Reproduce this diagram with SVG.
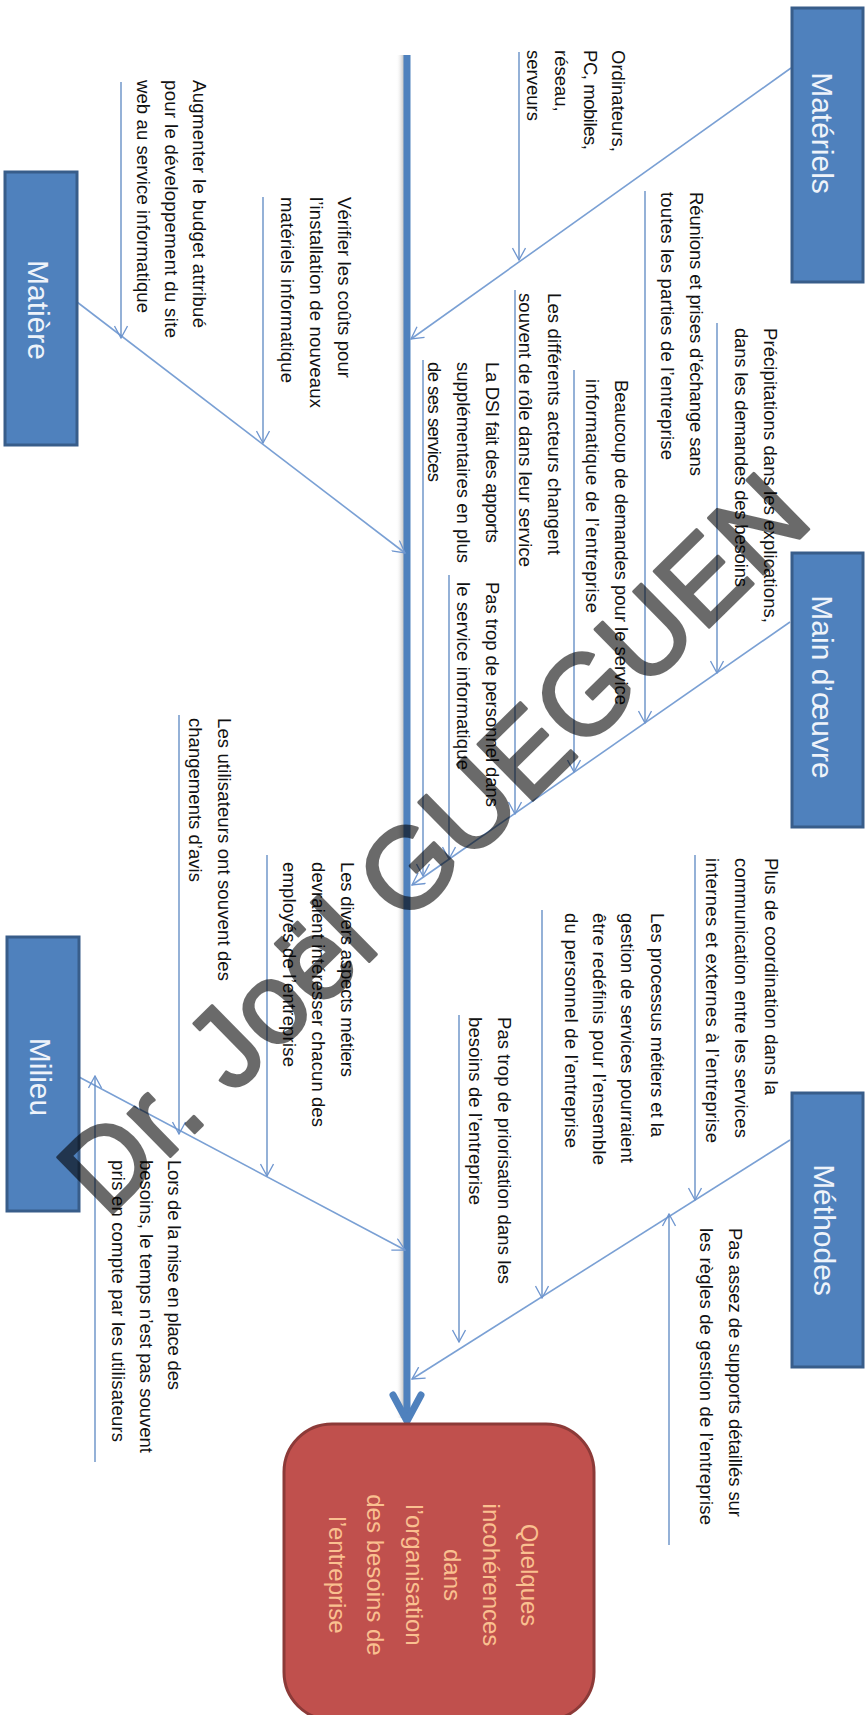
<svg xmlns="http://www.w3.org/2000/svg" width="865" height="1715" viewBox="0 0 865 1715">
<defs>
<style>
.box{fill:#4f81bd;stroke:#385d8a;stroke-width:3}
.lbl{font-family:"Liberation Sans",Arial,sans-serif;font-size:30px;fill:#eef3fa;text-anchor:middle}
.t{font-family:"Liberation Sans",Arial,sans-serif;font-size:18.5px;fill:#111}
.rt{font-family:"Liberation Sans",Arial,sans-serif;font-size:24px;fill:#fac090;text-anchor:middle}
.br{stroke:#7aa0d4;stroke-width:1.6;fill:none}
.ln{stroke:#5b87c2;stroke-width:1.3;fill:none}
.wm{font-family:"Liberation Sans",Arial,sans-serif;font-size:114px;fill:#000;stroke:#000;stroke-width:3;stroke-linejoin:round;text-anchor:middle}
</style>
<marker id="ah" markerUnits="userSpaceOnUse" markerWidth="14" markerHeight="14" viewBox="0 0 14 14" refX="13" refY="7" orient="auto">
<path d="M1,0.5 L13,7 L1,13.5" fill="none" stroke="#6f96cf" stroke-width="1.3"/>
</marker>
<linearGradient id="sh" x1="0" y1="0" x2="1" y2="0">
<stop offset="0" stop-color="#ffffff" stop-opacity="0"/>
<stop offset="1" stop-color="#bdbdbd"/>
</linearGradient>
</defs>
<rect width="865" height="1715" fill="#ffffff"/>

<g id="connectors">
<rect x="396" y="55" width="8" height="1363" fill="url(#sh)"/>
<line x1="407" y1="55" x2="407" y2="1418" stroke="#4f81bd" stroke-width="7"/>
<polyline points="393,1395 407,1421 421,1395" fill="none" stroke="#4f81bd" stroke-width="7" stroke-linecap="round" stroke-linejoin="round"/>
<line class="br" x1="791" y1="68" x2="411" y2="339" marker-end="url(#ah)"/>
<line class="br" x1="77" y1="302" x2="405" y2="553" marker-end="url(#ah)"/>
<line class="br" x1="790" y1="622" x2="412" y2="885" marker-end="url(#ah)"/>
<line class="br" x1="79" y1="1077" x2="405" y2="1250" marker-end="url(#ah)"/>
<line class="br" x1="790" y1="1140" x2="412" y2="1379" marker-end="url(#ah)"/>
<line class="ln" x1="121" y1="82" x2="121" y2="338" marker-end="url(#ah)"/>
<line class="ln" x1="263" y1="197" x2="263" y2="443" marker-end="url(#ah)"/>
<line class="ln" x1="519" y1="52" x2="519" y2="260" marker-end="url(#ah)"/>
<line class="ln" x1="645" y1="191" x2="645" y2="723" marker-end="url(#ah)"/>
<line class="ln" x1="717" y1="323" x2="717" y2="673" marker-end="url(#ah)"/>
<line class="ln" x1="574" y1="370" x2="574" y2="772" marker-end="url(#ah)"/>
<line class="ln" x1="515" y1="290" x2="515" y2="814" marker-end="url(#ah)"/>
<line class="ln" x1="423" y1="360" x2="423" y2="876" marker-end="url(#ah)"/>
<line class="ln" x1="449" y1="575" x2="449" y2="859" marker-end="url(#ah)"/>
<line class="ln" x1="179" y1="715" x2="179" y2="1134" marker-end="url(#ah)"/>
<line class="ln" x1="267" y1="855" x2="267" y2="1176" marker-end="url(#ah)"/>
<line class="ln" x1="95" y1="1462" x2="95" y2="1076" marker-end="url(#ah)"/>
<line class="ln" x1="695" y1="855" x2="695" y2="1200" marker-end="url(#ah)"/>
<line class="ln" x1="542" y1="910" x2="542" y2="1298" marker-end="url(#ah)"/>
<line class="ln" x1="459" y1="1015" x2="459" y2="1342" marker-end="url(#ah)"/>
<line class="ln" x1="669" y1="1545" x2="669" y2="1214" marker-end="url(#ah)"/>
</g>

<g id="materiels">
<rect class="box" x="792" y="8" width="71" height="274"/>
<text class="lbl" transform="rotate(90)" x="133" y="-812">Matériels</text>
</g>
<g id="matiere">
<rect class="box" x="5" y="172" width="72" height="273"/>
<text class="lbl" transform="rotate(90)" x="310" y="-28">Matière</text>
</g>
<g id="main-oeuvre">
<rect class="box" x="792" y="553" width="71" height="274"/>
<text class="lbl" transform="rotate(90)" x="687" y="-812">Main d’œuvre</text>
</g>
<g id="milieu">
<rect class="box" x="7" y="937" width="72" height="274"/>
<text class="lbl" transform="rotate(90)" x="1077" y="-30">Milieu</text>
</g>
<g id="methodes">
<rect class="box" x="792" y="1093" width="71" height="274"/>
<text class="lbl" transform="rotate(90)" x="1230" y="-814">Méthodes</text>
</g>

<g id="effet">
<rect x="284" y="1424" width="310" height="296" rx="48" ry="48" fill="#c0504d" stroke="#8c3a38" stroke-width="3"/>
<text class="rt" transform="rotate(90)" x="1575" y="-521">Quelques</text>
<text class="rt" transform="rotate(90)" x="1575" y="-483">incohérences</text>
<text class="rt" transform="rotate(90)" x="1575" y="-444">dans</text>
<text class="rt" transform="rotate(90)" x="1575" y="-406">l’organisation</text>
<text class="rt" transform="rotate(90)" x="1575" y="-367">des besoins de</text>
<text class="rt" transform="rotate(90)" x="1575" y="-329">l’entreprise</text>
</g>

<g id="cause-budget">
<text class="t" transform="rotate(90)" x="80" y="-193" textLength="248" lengthAdjust="spacing">Augmenter le budget attribué</text>
<text class="t" transform="rotate(90)" x="80" y="-165" textLength="258" lengthAdjust="spacing">pour le développement du site</text>
<text class="t" transform="rotate(90)" x="80" y="-137" textLength="233" lengthAdjust="spacing">web au service informatique</text>
</g>
<g id="cause-couts">
<text class="t" transform="rotate(90)" x="197" y="-338" textLength="181" lengthAdjust="spacing">Vérifier les coûts pour</text>
<text class="t" transform="rotate(90)" x="197" y="-310" textLength="211" lengthAdjust="spacing">l’installation de nouveaux</text>
<text class="t" transform="rotate(90)" x="197" y="-281" textLength="186" lengthAdjust="spacing">matériels informatique</text>
</g>
<g id="cause-ordinateurs">
<text class="t" transform="rotate(90)" x="50" y="-612" textLength="102" lengthAdjust="spacing">Ordinateurs,</text>
<text class="t" transform="rotate(90)" x="50" y="-584" textLength="100" lengthAdjust="spacing">PC, mobiles,</text>
<text class="t" transform="rotate(90)" x="50" y="-555">réseau,</text>
<text class="t" transform="rotate(90)" x="50" y="-527">serveurs</text>
</g>
<g id="cause-reunions">
<text class="t" transform="rotate(90)" x="192" y="-690" textLength="284" lengthAdjust="spacing">Réunions et prises d’échange sans</text>
<text class="t" transform="rotate(90)" x="192" y="-661" textLength="268" lengthAdjust="spacing">toutes les parties de l’entreprise</text>
</g>
<g id="cause-precipitations">
<text class="t" transform="rotate(90)" x="328" y="-764" textLength="295" lengthAdjust="spacing">Précipitations dans les explications,</text>
<text class="t" transform="rotate(90)" x="328" y="-735" textLength="259" lengthAdjust="spacing">dans les demandes des besoins</text>
</g>
<g id="cause-demandes">
<text class="t" transform="rotate(90)" x="380" y="-615" textLength="325" lengthAdjust="spacing">Beaucoup de demandes pour le service</text>
<text class="t" transform="rotate(90)" x="379" y="-586" textLength="234" lengthAdjust="spacing">informatique de l’entreprise</text>
</g>
<g id="cause-acteurs">
<text class="t" transform="rotate(90)" x="293" y="-548" textLength="262" lengthAdjust="spacing">Les différents acteurs changent</text>
<text class="t" transform="rotate(90)" x="293" y="-519" textLength="274" lengthAdjust="spacing">souvent de rôle dans leur service</text>
</g>
<g id="cause-dsi">
<text class="t" transform="rotate(90)" x="362" y="-486" textLength="181" lengthAdjust="spacing">La DSI fait des apports</text>
<text class="t" transform="rotate(90)" x="362" y="-457" textLength="201" lengthAdjust="spacing">supplémentaires en plus</text>
<text class="t" transform="rotate(90)" x="362" y="-428" textLength="120" lengthAdjust="spacing">de ses services</text>
</g>
<g id="cause-personnel">
<text class="t" transform="rotate(90)" x="582" y="-486" textLength="225" lengthAdjust="spacing">Pas trop de personnel dans</text>
<text class="t" transform="rotate(90)" x="582" y="-457" textLength="188" lengthAdjust="spacing">le service informatique</text>
</g>
<g id="cause-utilisateurs">
<text class="t" transform="rotate(90)" x="718" y="-218" textLength="263" lengthAdjust="spacing">Les utilisateurs ont souvent des</text>
<text class="t" transform="rotate(90)" x="718" y="-189" textLength="164" lengthAdjust="spacing">changements d’avis</text>
</g>
<g id="cause-metiers">
<text class="t" transform="rotate(90)" x="862" y="-341" textLength="215" lengthAdjust="spacing">Les divers aspects métiers</text>
<text class="t" transform="rotate(90)" x="862" y="-312" textLength="265" lengthAdjust="spacing">devraient intéresser chacun des</text>
<text class="t" transform="rotate(90)" x="862" y="-283" textLength="205" lengthAdjust="spacing">employés de l’entreprise</text>
</g>
<g id="cause-temps">
<text class="t" transform="rotate(90)" x="1160" y="-168" textLength="230" lengthAdjust="spacing">Lors de la mise en place des</text>
<text class="t" transform="rotate(90)" x="1160" y="-140" textLength="293" lengthAdjust="spacing">besoins, le temps n’est pas souvent</text>
<text class="t" transform="rotate(90)" x="1160" y="-112" textLength="282" lengthAdjust="spacing">pris en compte par les utilisateurs</text>
</g>
<g id="cause-coordination">
<text class="t" transform="rotate(90)" x="858" y="-765" textLength="237" lengthAdjust="spacing">Plus de coordination dans la</text>
<text class="t" transform="rotate(90)" x="858" y="-735" textLength="280" lengthAdjust="spacing">communication entre les services</text>
<text class="t" transform="rotate(90)" x="858" y="-706" textLength="285" lengthAdjust="spacing">internes et externes à l’entreprise</text>
</g>
<g id="cause-processus">
<text class="t" transform="rotate(90)" x="913" y="-651" textLength="224" lengthAdjust="spacing">Les processus métiers et la</text>
<text class="t" transform="rotate(90)" x="913" y="-621" textLength="250" lengthAdjust="spacing">gestion de services pourraient</text>
<text class="t" transform="rotate(90)" x="913" y="-593" textLength="252" lengthAdjust="spacing">être redéfinis pour l’ensemble</text>
<text class="t" transform="rotate(90)" x="913" y="-565" textLength="235" lengthAdjust="spacing">du personnel de l’entreprise</text>
</g>
<g id="cause-priorisation">
<text class="t" transform="rotate(90)" x="1017" y="-498" textLength="267" lengthAdjust="spacing">Pas trop de priorisation dans les</text>
<text class="t" transform="rotate(90)" x="1017" y="-469" textLength="188" lengthAdjust="spacing">besoins de l’entreprise</text>
</g>
<g id="cause-supports">
<text class="t" transform="rotate(90)" x="1228" y="-729" textLength="289" lengthAdjust="spacing">Pas assez de supports détaillés sur</text>
<text class="t" transform="rotate(90)" x="1228" y="-700" textLength="297" lengthAdjust="spacing">les règles de gestion de l’entreprise</text>
</g>

<g id="watermark" opacity="0.58">
<text class="wm" transform="translate(432,842) rotate(-44.5)" x="0" y="41">Dr. Joël GUEGUEN</text>
</g>
</svg>
